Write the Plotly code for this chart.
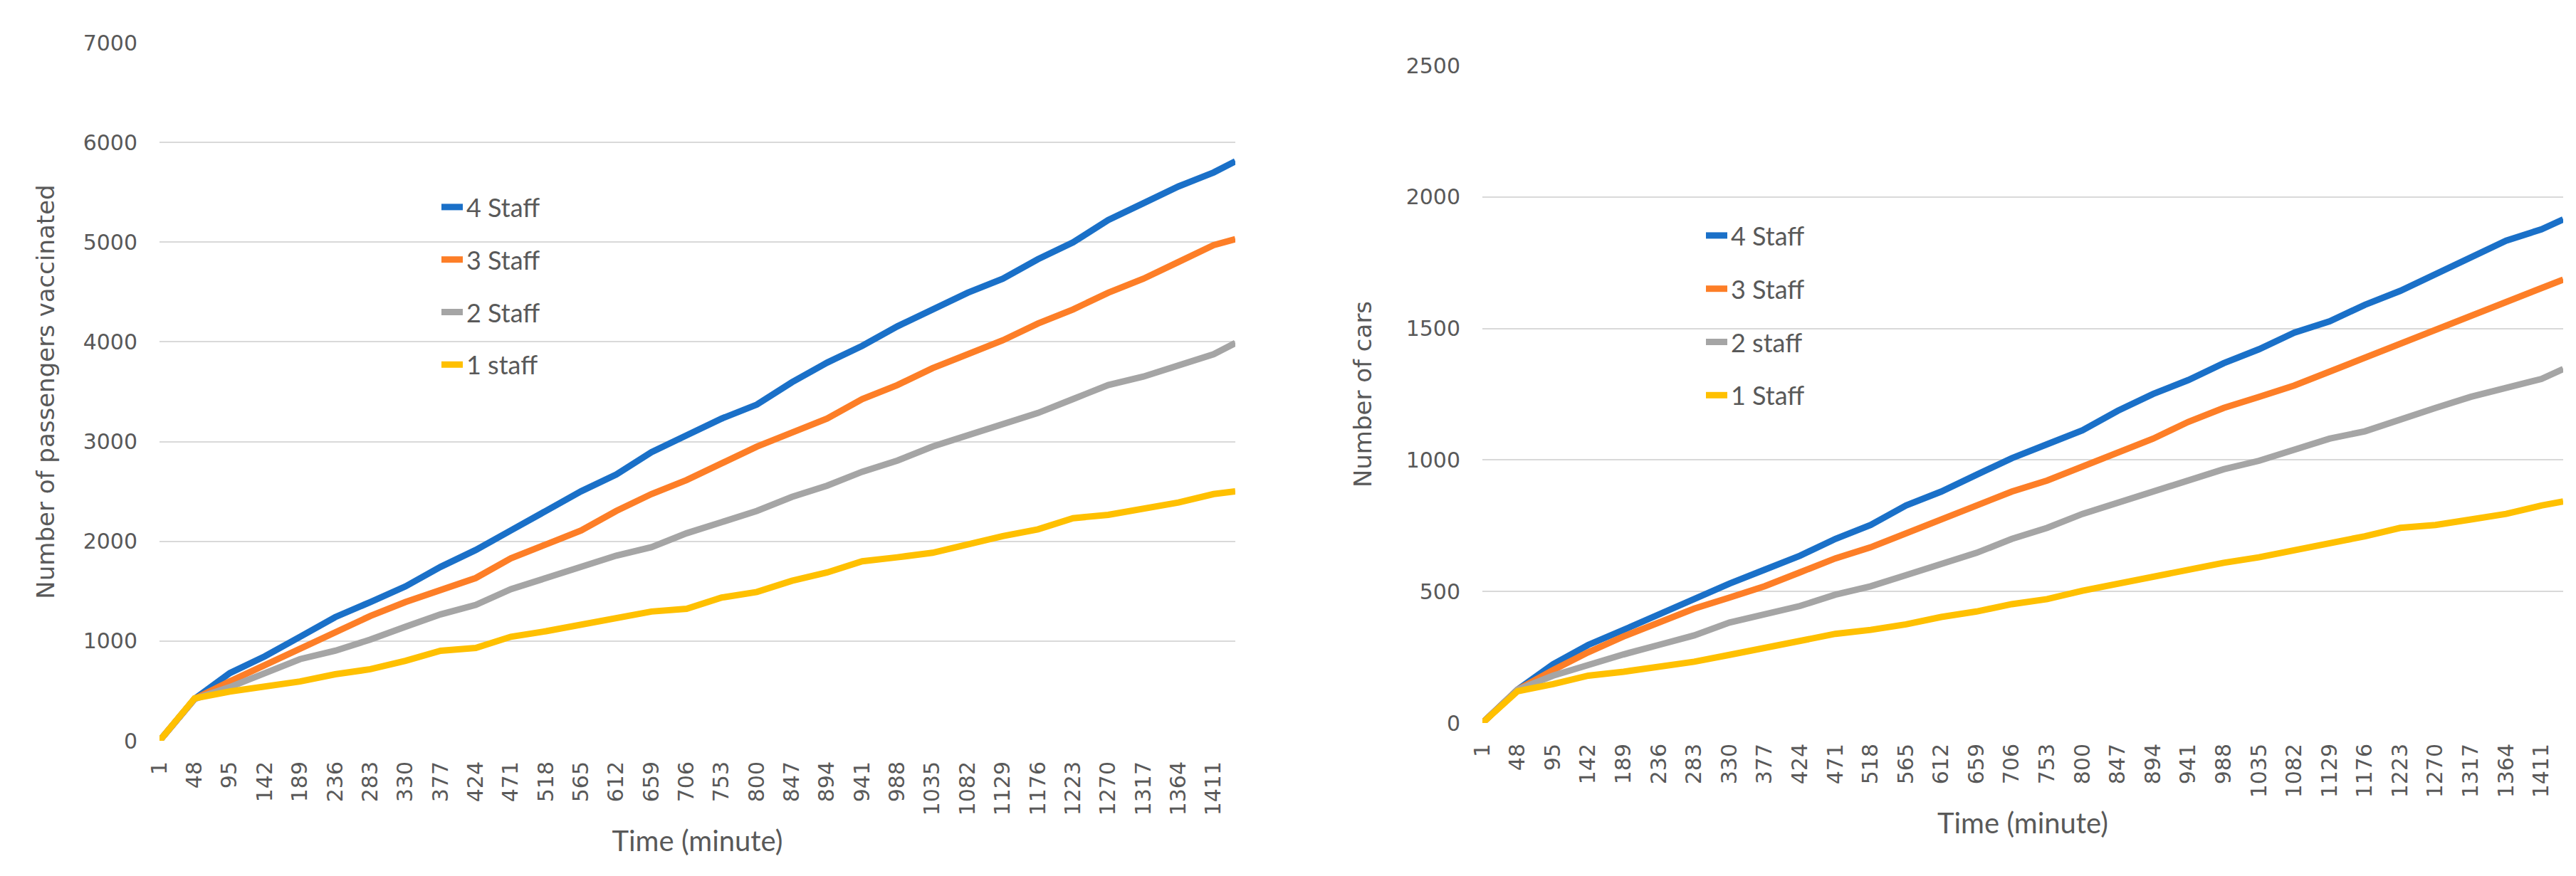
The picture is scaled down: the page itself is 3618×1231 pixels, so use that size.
import plotly.graph_objects as go

# Time axis (minutes): readings taken at each labelled category plus the last minute
minutes = [1, 48, 95, 142, 189, 236, 283, 330, 377, 424, 471, 518, 565, 612, 659, 706,
           753, 800, 847, 894, 941, 988, 1035, 1082, 1129, 1176, 1223, 1270, 1317, 1364,
           1411, 1440]
tick_minutes = [1, 48, 95, 142, 189, 236, 283, 330, 377, 424, 471, 518, 565, 612, 659, 706,
                753, 800, 847, 894, 941, 988, 1035, 1082, 1129, 1176, 1223, 1270, 1317, 1364,
                1411]
tick_labels = [str(v) for v in tick_minutes]

# Left chart: number of passengers vaccinated
pass_4 = [0, 420, 679, 847, 1043, 1240, 1391, 1548, 1744, 1913, 2109, 2305, 2502, 2670,
          2894, 3063, 3231, 3371, 3595, 3792, 3960, 4156, 4325, 4493, 4633, 4829, 4998,
          5222, 5390, 5559, 5699, 5811]
pass_3 = [0, 420, 595, 763, 931, 1099, 1251, 1391, 1520, 1632, 1829, 1969, 2109, 2305,
          2474, 2614, 2782, 2950, 3091, 3231, 3427, 3567, 3736, 3876, 4016, 4184, 4325,
          4493, 4633, 4801, 4970, 5030]
pass_2 = [0, 420, 538, 679, 819, 903, 1015, 1144, 1268, 1363, 1520, 1632, 1744, 1857,
          1941, 2081, 2193, 2305, 2446, 2558, 2698, 2810, 2950, 3063, 3175, 3287, 3427,
          3567, 3652, 3764, 3876, 3988]
pass_1 = [0, 426, 494, 538, 595, 667, 718, 802, 903, 931, 1043, 1099, 1167, 1240, 1296,
          1324, 1436, 1492, 1604, 1688, 1800, 1840, 1885, 1969, 2053, 2120, 2232, 2266,
          2333, 2390, 2474, 2502]

# Right chart: number of cars
cars_4 = [0, 127, 223, 297, 354, 413, 466, 530, 583, 636, 700, 753, 827, 880, 944, 1007,
          1060, 1113, 1187, 1251, 1304, 1368, 1421, 1484, 1527, 1590, 1643, 1707, 1771,
          1834, 1877, 1915]
cars_3 = [0, 127, 201, 269, 329, 382, 435, 477, 520, 573, 626, 668, 721, 774, 827, 880,
          922, 975, 1028, 1081, 1145, 1198, 1240, 1283, 1336, 1389, 1442, 1495, 1548, 1601,
          1654, 1686]
cars_2 = [0, 127, 180, 223, 261, 297, 333, 382, 413, 445, 488, 520, 562, 604, 647, 700,
          742, 795, 838, 880, 922, 965, 997, 1039, 1081, 1109, 1156, 1198, 1240, 1272, 1308,
          1346]
cars_1 = [0, 121, 148, 180, 195, 212, 233, 259, 286, 312, 339, 354, 375, 403, 424, 452,
          471, 503, 530, 556, 587, 609, 630, 657, 679, 710, 742, 753, 774, 795, 827, 842]

left_names = ["4 Staff", "3 Staff", "2 Staff", "1 staff"]
right_names = ["4 Staff", "3 Staff", "2 staff", "1 Staff"]
colors = ["#1a70c8", "#fd7e27", "#a5a5a5", "#ffc000"]

W, H = 3618, 1231
GRID = "#d9d9d9"
TXT = "#595959"
TICKFONT = dict(family="DejaVu Sans", size=30, color=TXT)
TITLEFONT_Y = dict(family="DejaVu Sans", size=34, color=TXT)
TITLEFONT_X = dict(family="Lato", size=40, color=TXT)
LEGFONT = dict(family="Lato", size=36, color=TXT)

fig = go.Figure()
for i, (name, ys) in enumerate(zip(left_names, [pass_4, pass_3, pass_2, pass_1])):
    fig.add_trace(go.Scatter(x=minutes, y=ys, mode="lines", name=name,
                             line=dict(color=colors[i], width=9),
                             xaxis="x", yaxis="y", legend="legend",
                             legendgroup="L" + str(i)))
for i, (name, ys) in enumerate(zip(right_names, [cars_4, cars_3, cars_2, cars_1])):
    fig.add_trace(go.Scatter(x=minutes, y=ys, mode="lines", name=name,
                             line=dict(color=colors[i], width=9),
                             xaxis="x2", yaxis="y2", legend="legend2",
                             legendgroup="R" + str(i)))

def px_x(p):
    return p / W

def px_y(p):
    return 1 - p / H

xcommon = dict(tickmode="array", tickvals=tick_minutes, ticktext=tick_labels,
               tickangle=-90, tickfont=TICKFONT, showgrid=False, zeroline=False,
               showline=False, ticks="", range=[1, 1440], ticklabelstandoff=22,
               automargin=False)
ycommon = dict(tickfont=TICKFONT, showgrid=True, gridcolor=GRID, gridwidth=2,
               zeroline=False, showline=False, ticks="", ticklabelstandoff=30,
               automargin=False)

fig.update_layout(
    width=W, height=H,
    paper_bgcolor="white", plot_bgcolor="white",
    margin=dict(l=0, r=0, t=0, b=0, autoexpand=False),
    xaxis=dict(domain=[px_x(216), px_x(1727)], anchor="y",
               title=dict(text="Time (minute)", font=TITLEFONT_X, standoff=22), **xcommon),
    yaxis=dict(domain=[px_y(1033), px_y(52)], anchor="x", range=[0, 7000], dtick=1000,
               title=dict(text="Number of passengers vaccinated", font=TITLEFONT_Y, standoff=29),
               **ycommon),
    xaxis2=dict(domain=[px_x(2074), px_x(3592)], anchor="y2",
                title=dict(text="Time (minute)", font=TITLEFONT_X, standoff=22), **xcommon),
    yaxis2=dict(domain=[px_y(1008), px_y(84)], anchor="x2", range=[0, 2500], dtick=500,
                title=dict(text="Number of cars", font=TITLEFONT_Y, standoff=37),
                **ycommon),
    legend=dict(x=px_x(607), y=px_y(253), xanchor="left", yanchor="top",
                font=LEGFONT, bgcolor="rgba(0,0,0,0)", tracegroupgap=24,
                traceorder="grouped", itemwidth=30),
    legend2=dict(x=px_x(2383), y=px_y(293), xanchor="left", yanchor="top",
                 font=LEGFONT, bgcolor="rgba(0,0,0,0)", tracegroupgap=25,
                 traceorder="grouped", itemwidth=30),
)

fig.write_html("out.html")
